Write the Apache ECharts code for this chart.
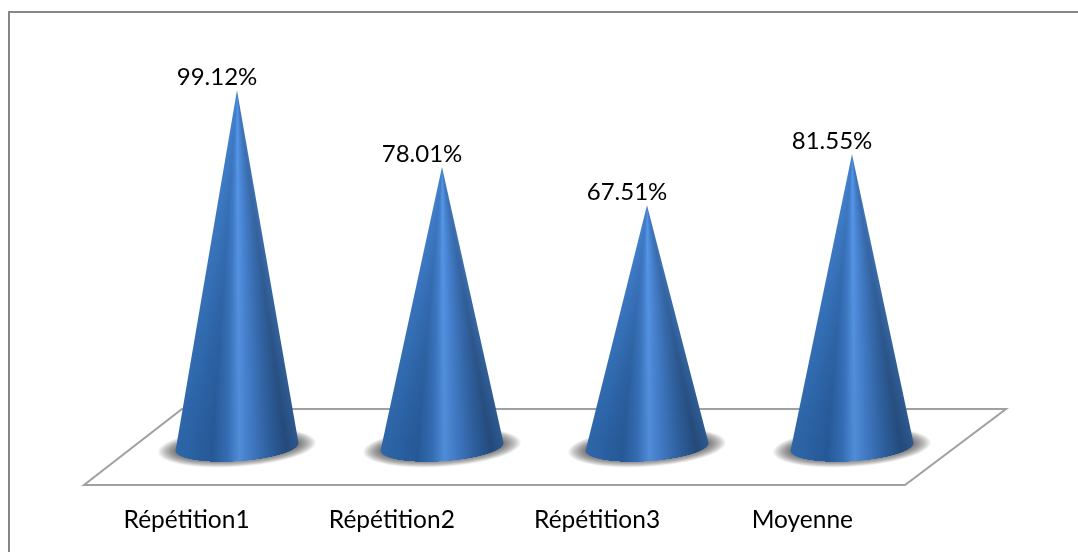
<!DOCTYPE html>
<html>
<head>
<meta charset="utf-8">
<style>html,body{margin:0;padding:0;background:#fff}#chart{width:1078px;height:552px}</style>
<script src="https://cdn.jsdelivr.net/npm/echarts@6/dist/echarts.min.js"></script>
</head>
<body>
<div id="chart"></div>
<script>
// Repetition results, percent
const categories = ['Répétition1', 'Répétition2', 'Répétition3', 'Moyenne'];
const values = [99.12, 78.01, 67.51, 81.55];

// Shading across a cone, from its left silhouette to its right one
const shadeStops = [
  [0.00, [46, 102, 168]],
  [0.12, [42, 98, 164]],
  [0.30, [38, 88, 150]],
  [0.42, [52, 108, 178]],
  [0.52, [80, 140, 216]],
  [0.62, [64, 120, 194]],
  [0.78, [44, 92, 152]],
  [0.90, [36, 74, 122]],
  [1.00, [44, 88, 142]]
];
const TOP_LIGHT = [96, 165, 255];

const BASE_A = 61.6, BASE_B = 14.5, TILT = -3.7 * Math.PI / 180, BASE_LIFT = 4;

// One horizontal gradient for a scanline; `light` brightens it towards the tip
function rowGradient(left, right, light) {
  return {
    type: 'linear', global: true, x: left, y: 0, x2: right, y2: 0,
    colorStops: shadeStops.map(s => ({
      offset: s[0],
      color: 'rgb(' + s[1].map((v, j) => Math.round(v + (TOP_LIGHT[j] - v) * light)).join(',') + ')'
    }))
  };
}

// Horizontal extent of a polygon on the scanline y
function spanAt(poly, y) {
  let lo = Infinity, hi = -Infinity;
  for (let i = 0; i < poly.length; i++) {
    const a = poly[i], b = poly[(i + 1) % poly.length];
    if ((a[1] <= y && b[1] > y) || (b[1] <= y && a[1] > y)) {
      const x = a[0] + (b[0] - a[0]) * (y - a[1]) / (b[1] - a[1]);
      lo = Math.min(lo, x);
      hi = Math.max(hi, x);
    }
  }
  return [lo, hi];
}

function renderCone(params, api) {
  const tip = api.coord([api.value(0), api.value(1)]);
  const zero = api.coord([api.value(0), 0]);
  const cx = zero[0], cy = zero[1] - BASE_LIFT;
  const cos = Math.cos(TILT), sin = Math.sin(TILT);
  const rim = t => [
    cx + BASE_A * Math.cos(t) * cos - BASE_B * Math.sin(t) * sin,
    cy + BASE_A * Math.cos(t) * sin + BASE_B * Math.sin(t) * cos
  ];
  const children = [];

  // Soft ground shadow built from stacked translucent ellipses
  const layers = 18;
  for (let i = 0; i < layers; i++) {
    const k = i / (layers - 1);
    children.push({
      type: 'ellipse',
      shape: { cx: cx, cy: cy + 0.5, rx: 79 - 20 * k, ry: 19.5 - 8 * k },
      rotation: -TILT,
      originX: cx, originY: cy + 0.5,
      style: { fill: 'rgba(0,0,0,0.045)' },
      z2: 1
    });
  }

  // Cone silhouette: tip plus the front half of the base rim
  const poly = [tip];
  const rimSteps = 90;
  for (let i = 0; i <= rimSteps; i++) poly.push(rim(Math.PI * (1 - i / rimSteps)));
  let bottom = -Infinity;
  poly.forEach(p => { bottom = Math.max(bottom, p[1]); });

  // Pixel rows keep the shading narrowing smoothly up to the tip
  const baseRange = cy - tip[1];
  const startY = Math.floor(tip[1]);
  for (let y = startY; y < bottom; y++) {
    const span = spanAt(poly, y + 0.5);
    if (!isFinite(span[0])) continue;
    const frac = Math.min(1, (y + 0.5 - tip[1]) / baseRange);
    const half = BASE_A * frac;
    const light = 0.5 * Math.pow(1 - frac, 1.3);
    children.push({
      type: 'rect',
      shape: { x: span[0], y: y, width: span[1] - span[0], height: 1 },
      style: { fill: rowGradient(cx - half - 0.01, cx + half + 0.01, light) },
      z2: 2
    });
  }

  children.push({
    type: 'text',
    style: {
      text: api.value(1).toFixed(2) + '%',
      x: tip[0] - 20, y: tip[1] - 0.5,
      align: 'center', verticalAlign: 'bottom',
      fontFamily: 'Lato', fontSize: 24, fill: '#000'
    },
    z2: 5
  });
  return { type: 'group', children: children };
}

const chart = echarts.init(document.getElementById('chart'), null, { renderer: 'canvas' });
chart.setOption({
  animation: false,
  backgroundColor: '#ffffff',
  grid: [
    { left: 134.5, width: 820, top: 87, height: 363.8 },
    { left: 84, width: 821, top: 87, height: 398 }
  ],
  xAxis: [
    { type: 'category', gridIndex: 0, data: categories, axisLine: { show: false }, axisTick: { show: false }, axisLabel: { show: false } },
    {
      type: 'category', gridIndex: 1, data: categories,
      axisLine: { show: false }, axisTick: { show: false },
      axisLabel: { fontFamily: 'Lato', fontSize: 24.5, color: '#000', margin: 23 }
    }
  ],
  yAxis: [
    { type: 'value', gridIndex: 0, min: 0, max: 100, show: false },
    { type: 'value', gridIndex: 1, min: 0, max: 100, show: false }
  ],
  graphic: [
    // Chart border: only the top and left edges are drawn
    { type: 'line', shape: { x1: 9, y1: 12, x2: 1078, y2: 12 }, style: { stroke: '#868686', lineWidth: 2 }, z: -1 },
    { type: 'line', shape: { x1: 9, y1: 11, x2: 9, y2: 552 }, style: { stroke: '#868686', lineWidth: 2 }, z: -1 },
    // Floor plane
    {
      type: 'polygon',
      shape: { points: [[84, 485], [905, 485], [1006, 409], [182, 409]] },
      style: { fill: '#ffffff', stroke: '#a0a0a0', lineWidth: 2 },
      z: -1
    }
  ],
  series: [{
    type: 'custom',
    xAxisIndex: 0,
    yAxisIndex: 0,
    renderItem: renderCone,
    encode: { x: 0, y: 1 },
    data: categories.map((c, i) => [i, values[i]]),
    clip: false
  }]
});
</script>
</body>
</html>
